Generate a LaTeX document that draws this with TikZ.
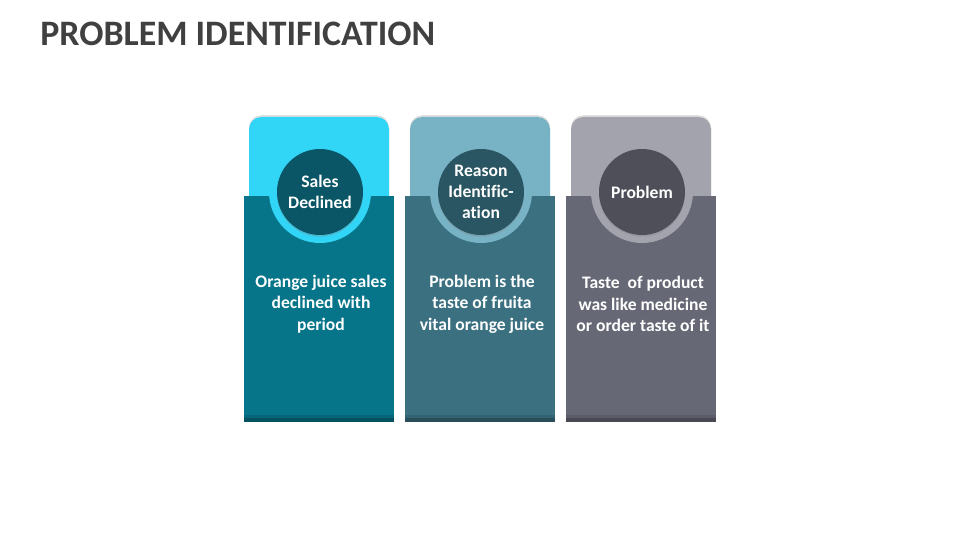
\documentclass[tikz,border=0pt]{standalone}
\usepackage{fontspec}
\setmainfont{Carlito}[Ligatures=NoCommon]
\usetikzlibrary{positioning,shadows}
\definecolor{titlegray}{HTML}{404040}
\definecolor{cyanL}{HTML}{31D5F6}
\definecolor{cyanD}{HTML}{067489}
\definecolor{cyanC}{HTML}{0A5566}
\definecolor{tealL}{HTML}{77B2C5}
\definecolor{tealD}{HTML}{3A7080}
\definecolor{tealC}{HTML}{2A5563}
\definecolor{grayL}{HTML}{A2A3AC}
\definecolor{grayD}{HTML}{676875}
\definecolor{grayC}{HTML}{4F4F5A}
\tikzset{
  cardtop/.style={rounded corners=7pt, drop shadow={opacity=0.25, shadow xshift=0pt, shadow yshift=1pt}},
  badge/.style={circle, minimum size=1.72cm, inner sep=0pt, align=center, text=white,
    font=\fontsize{10}{11.9}\selectfont\bfseries},
  desctext/.style={align=center, text=white, font=\fontsize{10}{12.2}\selectfont\bfseries}
}
\begin{document}
\begin{tikzpicture}[x=0.02cm, y=-0.02cm]
  \useasboundingbox (0,0) rectangle (960,540);

  % Title
  \node[anchor=base west, text=titlegray, font=\fontsize{20.4}{24}\selectfont\bfseries, inner sep=0pt]
    (title) at (40,46) {PROBLEM IDENTIFICATION};

  % Cards
  \foreach \i/\lt/\dk/\cc/\lab/\desc in {
      0/cyanL/cyanD/cyanC/{Sales\\Declined}/{Orange juice sales\\declined with\\period},
      1/tealL/tealD/tealC/{Reason\\Identific-\\ation}/{Problem is the\\taste of fruita\\vital orange juice},
      2/grayL/grayD/grayC/{Problem}/{Taste\ \ of product\\was like medicine\\or order taste of it}} {
    \pgfmathsetmacro{\cx}{319+161*\i}
    % light top panel
    \fill[\lt, cardtop] (\cx-70,117) rectangle (\cx+70,230);
    % dark lower panel
    \fill[\dk] (\cx-75,196) rectangle (\cx+75,422);
    \fill[\dk!88!black] (\cx-75,415) rectangle (\cx+75,422);
    \fill[\dk!70!black] (\cx-75,418) rectangle (\cx+75,422);
    % ring and badge
    \fill[\lt] (\cx+1,192) circle (51);
    \node[badge, fill=\cc, drop shadow={opacity=0.3, shadow xshift=0pt, shadow yshift=-1pt}]
      (circ\i) at (\cx+1,192) {\lab};
    \node[desctext] (desc\i) at (\cx+2,304) {\desc};
  }
\end{tikzpicture}
\end{document}
